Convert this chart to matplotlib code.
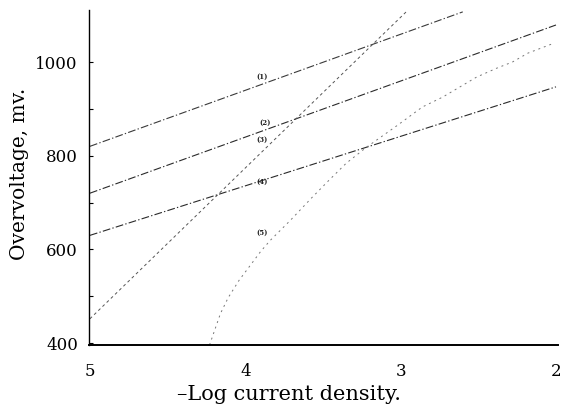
import matplotlib
matplotlib.use("Agg")
import matplotlib.pyplot as plt
from matplotlib.ticker import FixedLocator

# Data
line1_x = [5.0, 2.6]
line1_y = [820, 1107]
line2_x = [5.0, 2.0]
line2_y = [720, 1079]
line3_x = [5.0, 2.955]
line3_y = [452, 1110]
line4_x = [5.0, 2.0]
line4_y = [630, 947]
line5_x = [4.23, 4.16, 4.11, 4.04, 3.90, 3.84, 3.71, 3.57, 3.46, 3.35,
           3.22, 3.02, 2.86, 2.73, 2.51, 2.38, 2.28, 2.18, 2.03]
line5_y = [396, 463, 497, 534, 596, 619, 662, 711, 748, 784,
           818, 865, 904, 925, 968, 987, 1000, 1019, 1038]

labels = ["(1)", "(2)", "(3)", "(4)", "(5)"]
label_x = [3.89, 3.87, 3.89, 3.89, 3.89]
label_y = [968, 870, 833, 745, 636]

x_ticks = [5, 4, 3, 2]
y_ticks = [400, 600, 800, 1000]
y_minor = [500, 700, 900]

plt.rcParams['font.family'] = ['DejaVu Serif']

fig = plt.figure(figsize=(5.65, 4.08), dpi=100)
ax = fig.add_axes([0.1575, 0.1544, 0.8301, 0.8211])

dashdot = (0, (7, 2, 1.2, 2))
dotted = (0, (3, 3))
ax.plot(line1_x, line1_y, color='#3a3a3a', lw=0.8, ls=dashdot)
ax.plot(line2_x, line2_y, color='#2a2a2a', lw=0.8, ls=dashdot)
ax.plot(line3_x, line3_y, color='#555555', lw=0.7, ls=dotted)
ax.plot(line4_x, line4_y, color='#2a2a2a', lw=0.8, ls=dashdot)
ax.plot(line5_x, line5_y, color='#777777', lw=0.7, ls=(0, (2, 4)))

for t, xx, yy in zip(labels, label_x, label_y):
    ax.text(xx, yy, t, fontsize=5, fontweight='bold', ha='center', va='center',
            color='#222222')

ax.set_xlim(5.006, 1.987)
ax.set_ylim(396, 1111)

ax.set_xticks(x_ticks)
ax.set_xticklabels([str(v) for v in x_ticks])
ax.set_yticks(y_ticks)
ax.set_yticklabels([str(v) for v in y_ticks])
ax.yaxis.set_minor_locator(FixedLocator(y_minor))

ax.tick_params(axis='x', length=0, pad=13, labelsize=12)
ax.tick_params(axis='y', which='major', direction='in', length=3, width=0.8,
               pad=8, labelsize=12)
ax.tick_params(axis='y', which='minor', direction='in', length=3, width=0.8)

for s in ['top', 'right']:
    ax.spines[s].set_visible(False)
ax.spines['left'].set_linewidth(1.0)
ax.spines['bottom'].set_linewidth(1.4)

ax.set_xlabel("\u2013Log current density.", fontsize=15)
ax.xaxis.set_label_coords(0.426, -0.118)
ax.set_ylabel("Overvoltage, mv.", fontsize=14.5)
ax.yaxis.set_label_coords(-0.128, 0.51)

fig.savefig("out.png", dpi=100)
